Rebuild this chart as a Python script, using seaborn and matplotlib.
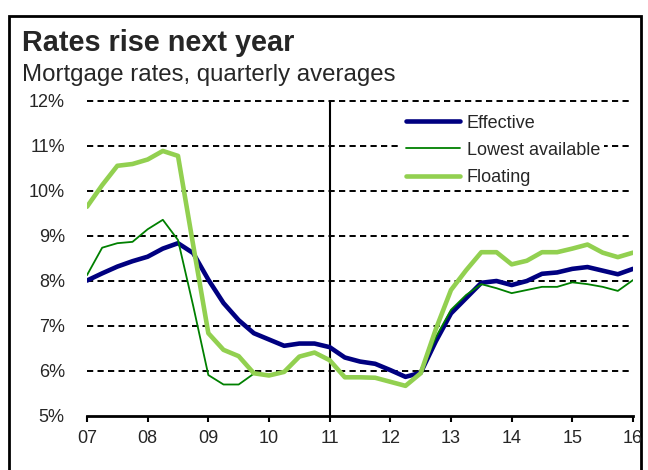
import matplotlib
matplotlib.use("Agg")
import matplotlib.pyplot as plt
from matplotlib.patches import Rectangle
import numpy as np
import pandas as pd
import seaborn as sns

# Quarterly averages, 2007 Q1 to 2016 Q1 (per cent)
effective = [8.01, 8.17, 8.32, 8.44, 8.54, 8.72, 8.84, 8.62, 8.03, 7.51, 7.13, 6.84,
             6.70, 6.56, 6.61, 6.61, 6.53, 6.30, 6.21, 6.16, 6.02, 5.87, 5.96, 6.66,
             7.28, 7.62, 7.96, 8.00, 7.91, 8.00, 8.16, 8.19, 8.27, 8.31, 8.23, 8.15, 8.27]
lowest = [8.13, 8.74, 8.84, 8.87, 9.15, 9.36, 8.91, 7.45, 5.91, 5.70, 5.70, 5.94,
          5.90, 5.98, 6.32, 6.41, 6.24, 5.86, 5.86, 5.85, 5.76, 5.67, 5.95, 6.75,
          7.36, 7.69, 7.93, 7.84, 7.73, 7.80, 7.87, 7.87, 7.97, 7.93, 7.87, 7.78, 8.02]
floating = [9.65, 10.13, 10.56, 10.60, 10.70, 10.89, 10.78, 8.80, 6.84, 6.47, 6.33, 5.95,
            5.90, 5.98, 6.32, 6.41, 6.24, 5.86, 5.86, 5.85, 5.76, 5.67, 5.95, 6.93,
            7.80, 8.24, 8.64, 8.64, 8.37, 8.45, 8.64, 8.64, 8.72, 8.81, 8.63, 8.53, 8.63]
year_ticks = [7, 8, 9, 10, 11, 12, 13, 14, 15, 16]
year_labels = ["07", "08", "09", "10", "11", "12", "13", "14", "15", "16"]
y_ticks = [5, 6, 7, 8, 9, 10, 11, 12]
y_labels = ["5%", "6%", "7%", "8%", "9%", "10%", "11%", "12%"]
series_names = ["Effective", "Lowest available", "Floating"]
forecast_start = 11

quarters = 7 + np.arange(len(effective)) * 0.25
df = pd.DataFrame({"t": quarters, "Effective": effective,
                   "Lowest available": lowest, "Floating": floating})

sns.set_style("white")
plt.rcParams["font.family"] = ["Liberation Sans", "DejaVu Sans"]

fig = plt.figure(figsize=(6.48, 4.70), dpi=100)
ax = fig.add_axes([87 / 648, 1 - 416 / 470, (633 - 87) / 648, (416 - 101) / 470])

styles = {
    "Effective": dict(color="#000080", lw=3.3),
    "Lowest available": dict(color="#008000", lw=1.3),
    "Floating": dict(color="#92D050", lw=3.3),
}

# gridlines and the forecast divider
for v in y_ticks[1:]:
    ax.axhline(v, color="black", lw=1.4, ls=(0, (3.2, 2.2)), zorder=1,
               clip_on=False)
ax.axvline(forecast_start, color="black", lw=1.5, zorder=2)

for i, name in enumerate(series_names):
    sns.lineplot(data=df, x="t", y=name, ax=ax, label=name,
                 color=styles[name]["color"], linewidth=styles[name]["lw"],
                 zorder=3 + i)

ax.set_xlim(7, 16)
ax.set_ylim(5, 12)
ax.set_xticks(year_ticks)
ax.set_xticklabels(year_labels)
ax.set_yticks(y_ticks)
ax.set_yticklabels(y_labels)
ax.set_xlabel("")
ax.set_ylabel("")
for s in ["left", "top", "right"]:
    ax.spines[s].set_visible(False)
ax.spines["bottom"].set_color("black")
ax.spines["bottom"].set_linewidth(2)
ax.spines["bottom"].set_zorder(10)
ax.tick_params(axis="x", direction="out", length=4, width=1.5, color="black",
               labelsize=13, pad=6, bottom=True)
ax.tick_params(axis="y", length=0, labelsize=13, pad=16)
for lab in ax.get_yticklabels():
    lab.set_horizontalalignment("right")
ax.patch.set_alpha(0)

leg = ax.legend(loc="upper left", bbox_to_anchor=(402 / 648, 1 - 111 / 470),
                bbox_transform=fig.transFigure, frameon=True, fancybox=False,
                facecolor="white", edgecolor="none", framealpha=1,
                fontsize=13, handlelength=3.0, handletextpad=0.4,
                labelspacing=0.56, borderpad=0.2, borderaxespad=0)
leg.set_zorder(8)

fig.text(22 / 648, 1 - 51 / 470, "Rates rise next year", fontsize=20.8,
         fontweight="bold", va="baseline", ha="left")
fig.text(22 / 648, 1 - 81 / 470, "Mortgage rates, quarterly averages",
         fontsize=17.3, va="baseline", ha="left")

fig.patches.append(Rectangle((9 / 648, -0.05), (641 - 9) / 648, 1.05 - 16 / 470,
                             transform=fig.transFigure, fill=False,
                             edgecolor="black", lw=2, zorder=-1))

fig.savefig("out.png", dpi=100)
